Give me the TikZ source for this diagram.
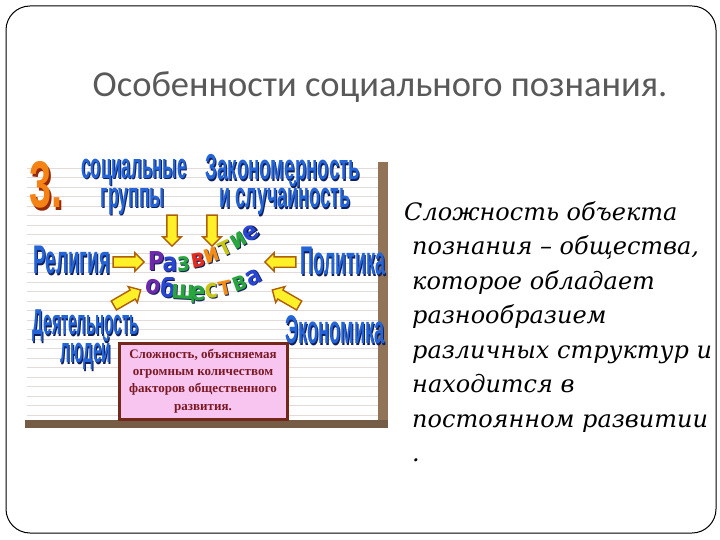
\documentclass[tikz,border=0pt]{standalone}
\usepackage{fontspec}
\usepackage{graphicx}
\setmainfont{Liberation Serif}
\newfontfamily\titlefont{Carlito}
\newfontfamily\lblfont{Liberation Sans}
\newfontfamily\rainbowfont{DejaVu Sans}
\newfontfamily\bodyfont{DejaVu Serif}
\usetikzlibrary{shapes.arrows}

\definecolor{titlegray}{RGB}{89,89,89}
\definecolor{lblblue}{RGB}{35,100,215}
\definecolor{lblshadow}{RGB}{15,30,90}
\definecolor{threeorange}{RGB}{245,130,20}
\definecolor{threeshadow}{RGB}{150,40,10}
\definecolor{arrowfill}{RGB}{255,240,40}
\definecolor{arrowline}{RGB}{175,95,10}
\definecolor{paperline}{RGB}{228,218,218}
\definecolor{shadowbrown}{RGB}{145,115,88}
\definecolor{boxpink}{RGB}{248,196,240}
\definecolor{boxline}{RGB}{115,40,25}
\definecolor{boxtext}{RGB}{120,25,35}
\definecolor{rbviolet}{RGB}{110,40,170}
\definecolor{rbblue}{RGB}{40,70,210}
\definecolor{rbgreen}{RGB}{40,165,60}
\definecolor{rbyellow}{RGB}{200,200,20}
\definecolor{rborange}{RGB}{245,140,20}
\definecolor{rbred}{RGB}{225,45,30}

% blue label with a dark drop shadow, squeezed sideways
\newcommand{\bluelbl}[2][0.47]{\scalebox{#1}[1]{\rlap{\kern2pt\raisebox{-1.8pt}{\color{lblshadow}#2}}{\color{lblblue}#2}}}
\newcommand{\rbchar}[2]{\scalebox{0.85}[1]{\rlap{\kern1pt\raisebox{-1pt}{\color{lblshadow}#2}}{\color{#1}#2}}}

\tikzset{
  blbl/.style={inner sep=0pt, font=\lblfont\bfseries\fontsize{36}{36}\selectfont},
  bigblbl/.style={inner sep=0pt, font=\lblfont\bfseries\fontsize{40}{40}\selectfont},
  bigarrow/.style={single arrow, draw=arrowline, fill=arrowfill, line width=1.4pt,
    minimum height=31pt, inner xsep=0pt, inner ysep=4.5pt, single arrow head extend=4pt},
  letter/.style={inner sep=0pt, anchor=base, font=\rainbowfont\bfseries\fontsize{26}{26}\selectfont},
}

\begin{document}
\begin{tikzpicture}[x=1pt,y=-1pt]
\useasboundingbox (0,0) rectangle (720,540);
\fill[white] (0,0) rectangle (720,540);
\draw[line width=1pt, rounded corners=24pt] (6,6) rectangle (716,533);

\node[font=\titlefont\fontsize{36.5}{36}\selectfont, text=titlegray] (title) at (380,87) {Особенности социального познания.};

% picture on the left
\fill[white] (27,160) rectangle (378,420);
\foreach \y in {168,177.5,...,418}
  \draw[paperline, line width=0.6pt] (27,\y) -- (378,\y);
\fill[shadowbrown] (378,162) rectangle (388,428);
\fill[shadowbrown!80!black] (25,420) rectangle (388,428);

\node[inner sep=0pt, font=\lblfont\bfseries\fontsize{66}{66}\selectfont] (three) at (46,186)
  {\scalebox{0.6}[1]{\rlap{\kern3pt\raisebox{-3pt}{\color{threeshadow}3.}}{\color{threeorange}3.}}};

\node[blbl] (soc1) at (134,173) {\bluelbl[0.47]{социальные}};
\node[blbl] (soc2) at (133,202) {\bluelbl[0.49]{группы}};
\node[blbl] (zak1) at (283,172) {\bluelbl[0.52]{Закономерность}};
\node[blbl] (zak2) at (285,199) {\bluelbl[0.5]{и случайность}};
\node[bigblbl] (rel) at (72,261) {\bluelbl[0.47]{Религия}};
\node[bigblbl] (pol) at (343,262) {\bluelbl[0.45]{Политика}};
\node[blbl] (dey1) at (86,327) {\bluelbl[0.42]{Деятельность}};
\node[blbl] (dey2) at (86,354) {\bluelbl[0.43]{людей}};
\node[bigblbl] (eco) at (335,331) {\bluelbl[0.46]{Экономика}};

% yellow arrows to the centre
\node[bigarrow, rotate=-90] (a1) at (172,228) {};
\node[bigarrow, rotate=-90] (a2) at (212,228) {};
\node[bigarrow] (a3) at (126,262) {};
\node[bigarrow, rotate=180] (a4) at (283,262) {};
\node[bigarrow, rotate=30] (a5) at (125,299) {};
\node[bigarrow, rotate=150] (a6) at (288,299) {};

% rainbow words, placed on their baselines
\foreach \ch/\x/\y/\a/\c in {Р/156/270/0/rbviolet, а/170/271/0/rbblue, з/184/271/3/rbgreen,
    в/199/267/10/rbred, и/214/262/18/rborange, т/228/255/25/rbyellow, и/242/247/30/rbgreen, е/255/239/35/rbblue}
  \node[letter, rotate=\a] (up\x) at (\x,\y) {\rbchar{\c}{\ch}};
\foreach \ch/\x/\y/\a/\c in {о/152/294/-10/rbviolet, б/167/297/-7/rbblue, щ/183/299/-3/rbgreen,
    е/198/300/0/rbgreen, с/212/298/5/rbyellow, т/227/295/12/rborange, в/242/290/20/rbgreen, а/257/284/28/rbblue}
  \node[letter, rotate=\a] (dn\x) at (\x,\y) {\rbchar{\c}{\ch}};

\node[draw=boxline, fill=boxpink, line width=3pt, minimum width=168pt, minimum height=76pt,
  align=center, font=\bfseries\fontsize{13}{17.3}\selectfont, text=boxtext] (cbox) at (203,381)
  {Сложность, объясняемая\\огромным количеством\\факторов общественного\\развития.};

% text on the right
\node[anchor=north west, align=left, inner sep=0pt,
  font=\bodyfont\itshape\fontsize{24}{34.5}\selectfont] (desc) at (412,201)
  {\hspace*{-8pt}Сложность объекта\\познания – общества,\\которое обладает\\разнообразием\\различных структур и\\находится в\\постоянном развитии\\.};
\end{tikzpicture}
\end{document}
